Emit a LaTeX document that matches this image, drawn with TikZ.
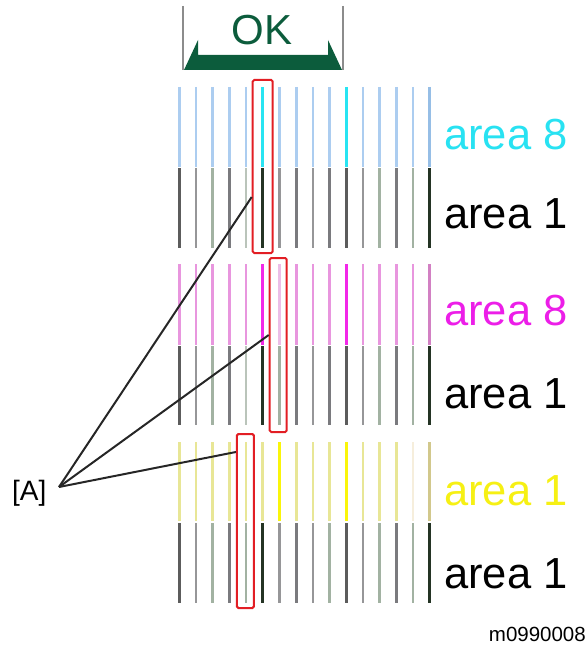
\documentclass[tikz,border=0pt]{standalone}
\usepackage{fontspec}
\setmainfont{Liberation Sans}
\definecolor{okgreen}{RGB}{12,92,60}
\definecolor{kcl}{RGB}{172,205,240}
\definecolor{kcb}{RGB}{40,228,242}
\definecolor{kcm}{RGB}{150,190,230}
\definecolor{kml}{RGB}{232,150,222}
\definecolor{kmb}{RGB}{242,40,232}
\definecolor{kmm}{RGB}{210,128,195}
\definecolor{kms}{RGB}{236,190,232}
\definecolor{kyl}{RGB}{232,230,150}
\definecolor{kyb}{RGB}{250,245,10}
\definecolor{kym}{RGB}{210,200,140}
\definecolor{kyp}{RGB}{246,238,220}
\definecolor{kga}{RGB}{92,92,92}
\definecolor{kgb}{RGB}{150,150,152}
\definecolor{kgc}{RGB}{162,178,162}
\definecolor{kgd}{RGB}{122,122,126}
\definecolor{kge}{RGB}{186,196,186}
\definecolor{kgf}{RGB}{36,52,36}
\definecolor{redbox}{RGB}{226,30,36}
\definecolor{tcyan}{RGB}{40,226,242}
\definecolor{tmag}{RGB}{236,30,232}
\definecolor{tyel}{RGB}{246,240,20}
\tikzset{
  bar/.style={line width=2.7bp},
  rbox/.style={draw=redbox, line width=2bp, rounded corners=1.5bp, inner sep=0pt, minimum width=#1},
  lbl/.style={anchor=base west, inner sep=0pt, font=\fontsize{43.5bp}{43.5bp}\selectfont},
  leader/.style={draw=black!85, line width=2bp}
}
\begin{document}
\begin{tikzpicture}[x=1bp,y=-1bp]
\useasboundingbox (0,0) rectangle (588,647);
% header
\draw[gray!90, line width=1.8bp] (183,6) -- (183,70);
\draw[gray!90, line width=1.8bp] (343,6) -- (343,70);
\fill[okgreen] (184,70) -- (198,40) -- (198,55) -- (328,55) -- (328,40) -- (342,70) -- cycle;
\node[anchor=base, inner sep=0pt, text=okgreen, font=\fontsize{42bp}{42bp}\selectfont] (ok) at (262,45) {OK};
% rows
\foreach \c [count=\i from 0] in {kcl,kcl,kcl,kcl,kcl,kcb,kcl,kcl,kcl,kcl,kcb,kcl,kcl,kcl,kcl,kcm}
  \draw[bar,color=\c] ({179.3+16.7*\i},87) -- ++(0,80);
\foreach \c [count=\i from 0] in {kga,kgb,kgc,kgd,kge,kgf,kgb,kgd,kgb,kgd,kga,kgb,kgc,kgd,kgc,kgf}
  \draw[bar,color=\c] ({179.3+16.7*\i},168) -- ++(0,80);
\foreach \c [count=\i from 0] in {kml,kml,kml,kml,kml,kmb,kms,kml,kml,kml,kmb,kml,kml,kml,kml,kmm}
  \draw[bar,color=\c] ({179.3+16.7*\i},264) -- ++(0,81);
\foreach \c [count=\i from 0] in {kga,kgb,kgc,kgd,kge,kgf,kgc,kgd,kgb,kgd,kga,kgb,kgc,kgd,kgc,kgf}
  \draw[bar,color=\c] ({179.3+16.7*\i},346) -- ++(0,79);
\foreach \c [count=\i from 0] in {kyl,kyl,kyl,kyl,kyl,kyl,kyb,kyl,kyl,kyl,kyb,kyl,kyl,kyl,kyp,kym}
  \draw[bar,color=\c] ({179.3+16.7*\i},442) -- ++(0,79);
\foreach \c [count=\i from 0] in {kga,kgb,kgc,kgd,kgc,kgf,kgb,kgd,kgb,kgc,kga,kgb,kgc,kgd,kgc,kgf}
  \draw[bar,color=\c] ({179.3+16.7*\i},523) -- ++(0,80);
% red boxes
\node[rbox=20bp, minimum height=173bp] (b1) at (262.7,166.5) {};
\node[rbox=17bp, minimum height=174bp] (b2) at (278.2,345) {};
\node[rbox=17bp, minimum height=174bp] (b3) at (245.4,521) {};
% labels
\node[lbl, text=tcyan] (l1) at (444,150) {area 8};
\node[lbl] (l2) at (444,228) {area 1};
\node[lbl, text=tmag] (l3) at (444,325) {area 8};
\node[lbl] (l4) at (444,408) {area 1};
\node[lbl, text=tyel] (l5) at (444,505) {area 1};
\node[lbl] (l6) at (444,588) {area 1};
% [A] and leaders
\node[anchor=base west, inner sep=0pt, font=\fontsize{28bp}{28bp}\selectfont] (A) at (12,500) {[A]};
\coordinate (a0) at (59,487);
\coordinate (p1) at (b1.west |- 0,197);
\coordinate (p2) at (b2.west |- 0,335);
\coordinate (p3) at (b3.west |- 0,452);
\draw[leader] (a0) -- (p1);
\draw[leader] (a0) -- (p2);
\draw[leader] (a0) -- (p3);
% code
\node[anchor=base east, inner sep=0pt, font=\fontsize{20.5bp}{20.5bp}\selectfont] (code) at (586,641) {m0990008};
\end{tikzpicture}
\end{document}
